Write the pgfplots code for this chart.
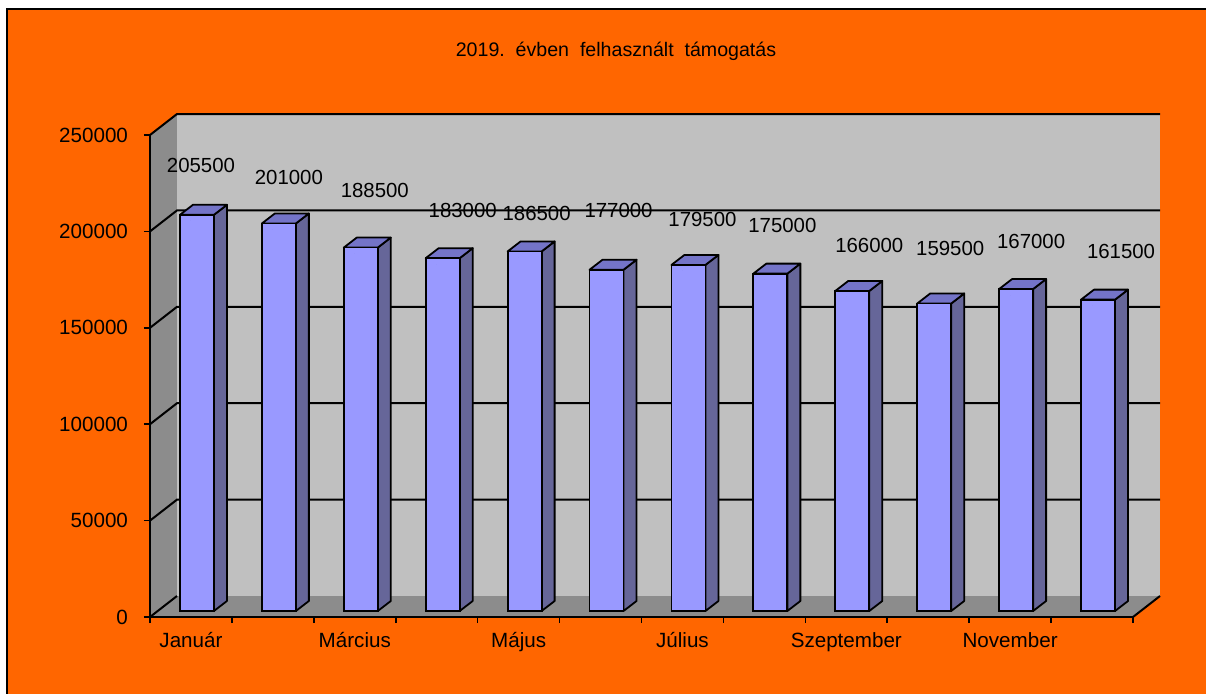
\documentclass[border=0pt]{standalone}
\usepackage{fontspec}
\setmainfont{Liberation Sans}
\usepackage{pgfplots}
\pgfplotsset{compat=1.18}

\definecolor{bgorange}{HTML}{FF6600}
\definecolor{wallback}{HTML}{C0C0C0}
\definecolor{wallside}{HTML}{8C8C8C}
\definecolor{barfront}{HTML}{9999FF}
\definecolor{barside}{HTML}{666699}
\definecolor{bartop}{HTML}{7474C8}

\begin{document}
\begin{tikzpicture}
\useasboundingbox (0,0) rectangle (603pt,346.5pt);
\fill[white] (0,0) rectangle (603pt,346.5pt);
\filldraw[fill=bgorange,draw=black,line width=0.6pt] (3.5pt,-5pt) rectangle (610pt,342pt);
\node[font=\fontsize{9.8}{11}\selectfont] at (308pt,320.75pt)
  {2019.\ \ évben\ \ felhasznált\ \ támogatás};

\begin{axis}[
  at={(75pt,38pt)}, anchor=south west,
  scale only axis, width=491.5pt, height=241pt,
  xmin=0, xmax=12, ymin=0, ymax=250000,
  enlargelimits=false, clip=false, axis on top,
  axis lines*=left,
  axis line style={black, line width=1pt},
  tick align=outside, major tick length=3pt,
  tick style={black, line width=0.8pt},
  xtick={0,...,12}, xticklabels={},
  extra x ticks={0.5,2.5,4.5,6.5,8.5,10.5},
  extra x tick labels={Január,Március,Május,Július,Szeptember,November},
  extra x tick style={major tick length=0pt, tick style={draw=none}},
  ytick={0,50000,100000,150000,200000,250000},
  yticklabels={0,50000,100000,150000,200000,250000},
  scaled y ticks=false,
  tick label style={font=\fontsize{10.3}{12}\selectfont},
  yticklabel style={xshift=-4.5pt},
  xticklabel style={yshift=-4pt},
]
% walls and floor
\fill[wallback] ([xshift=13.5pt,yshift=10.5pt]axis cs:0,0) rectangle ([xshift=13.5pt,yshift=10.5pt]axis cs:12,250000);
\fill[wallside] (axis cs:0,0) -- ([xshift=13.5pt,yshift=10.5pt]axis cs:0,0)
  -- ([xshift=13.5pt,yshift=10.5pt]axis cs:0,250000) -- (axis cs:0,250000) -- cycle;
\fill[wallside] (axis cs:0,0) -- (axis cs:12,0)
  -- ([xshift=13.5pt,yshift=10.5pt]axis cs:12,0) -- ([xshift=13.5pt,yshift=10.5pt]axis cs:0,0) -- cycle;
% grid
\draw[black, line width=1pt] (axis cs:0,0) -- ++(13.5pt,10.5pt);
\draw[black, line width=1pt] (axis cs:12,0) -- ++(13.5pt,10.5pt);
\draw[black, line width=1pt] (axis cs:0,50000) -- ++(13.5pt,10.5pt) -- ([xshift=13.5pt,yshift=10.5pt]axis cs:12,50000);
\draw[black, line width=1pt] (axis cs:0,100000) -- ++(13.5pt,10.5pt) -- ([xshift=13.5pt,yshift=10.5pt]axis cs:12,100000);
\draw[black, line width=1pt] (axis cs:0,150000) -- ++(13.5pt,10.5pt) -- ([xshift=13.5pt,yshift=10.5pt]axis cs:12,150000);
\draw[black, line width=1pt] (axis cs:0,200000) -- ++(13.5pt,10.5pt) -- ([xshift=13.5pt,yshift=10.5pt]axis cs:12,200000);
\draw[black, line width=1pt] (axis cs:0,250000) -- ++(13.5pt,10.5pt) -- ([xshift=13.5pt,yshift=10.5pt]axis cs:12,250000);

% 3D bars, drawn at each data point; dx/dy: label offset from bar top (px)
\addplot[
  only marks, scatter, mark=*, mark size=0pt,
  mark options={draw=none, fill=none},
  visualization depends on={value \thisrow{v} \as \rawv},
  visualization depends on={value \thisrow{dx} \as \ldx},
  visualization depends on={value \thisrow{dy} \as \ldy},
  scatter/@pre marker code/.code={%
    \begingroup
    \pgfkeys{/pgf/fpu=true,/pgf/fpu/output format=fixed}%
    \pgfmathparse{3-\rawv*0.000964}%
    \xdef\barbot{\pgfmathresult}%
    \endgroup
    \filldraw[fill=barside, draw=black, line width=0.9pt, line join=round]
      (11.5pt,3pt) -- (11.5pt,\barbot pt) -- (18pt,\barbot pt+5pt) -- (18pt,8pt) -- cycle;
    \filldraw[fill=bartop, draw=black, line width=0.9pt, line join=round]
      (-5.5pt,3pt) -- (11.5pt,3pt) -- (18pt,8pt) -- (1pt,8pt) -- cycle;
    \filldraw[fill=barfront, draw=black, line width=0.9pt]
      (-5.5pt,3pt) rectangle (11.5pt,\barbot pt);
    \node[font=\fontsize{10.2}{12}\selectfont, inner sep=0pt]
      at ({3pt+\ldx*0.5pt},{3pt+\ldy*0.5pt}) {\rawv};
  },
  scatter/@post marker code/.code={},
] table[x=x, y=v] {
x     v      dx  dy
0.5   205500 4   49
1.5   201000 10  46
2.5   188500 14  57
3.5   183000 20  48
4.5   186500 12  38
5.5   177000 12  59
6.5   179500 14  45
7.5   175000 12  48
8.5   166000 17  45
9.5   159500 16  55
10.5  167000 15  48
11.5  161500 23  48
};
\end{axis}
\end{tikzpicture}
\end{document}
